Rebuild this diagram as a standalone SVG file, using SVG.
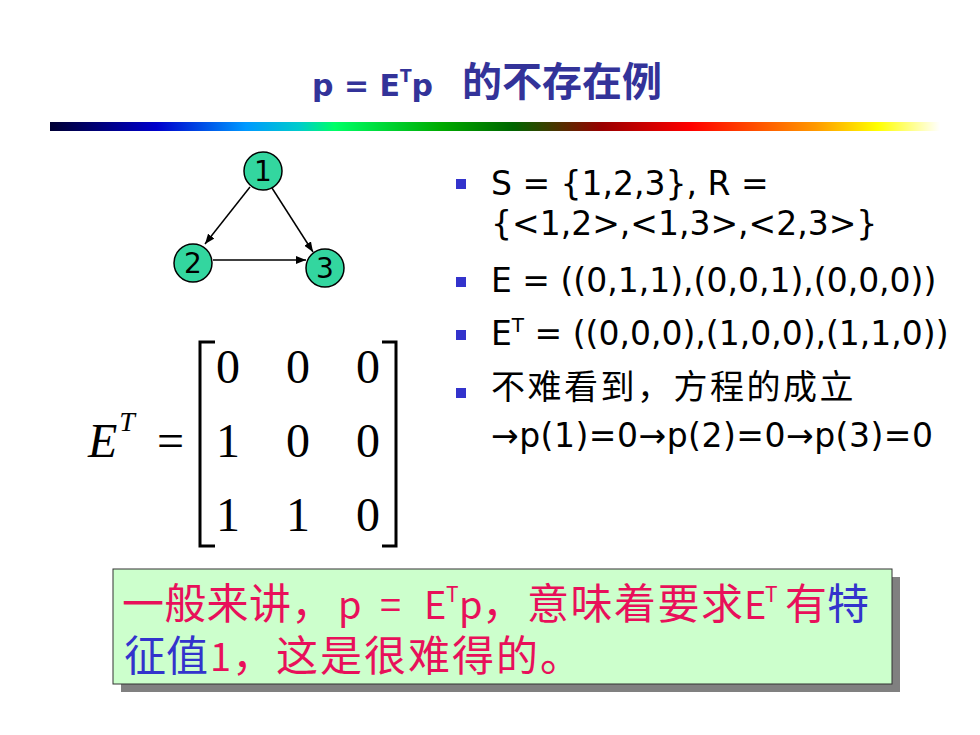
<svg xmlns="http://www.w3.org/2000/svg" width="980" height="735" viewBox="0 0 980 735">
<defs>
<linearGradient id="bar" x1="0" y1="0" x2="1" y2="0">
<stop offset="0" stop-color="#000033"/>
<stop offset="0.12" stop-color="#0000CC"/>
<stop offset="0.22" stop-color="#0099FF"/>
<stop offset="0.28" stop-color="#00CCCC"/>
<stop offset="0.32" stop-color="#00FF66"/>
<stop offset="0.44" stop-color="#00AA00"/>
<stop offset="0.52" stop-color="#006600"/>
<stop offset="0.62" stop-color="#990000"/>
<stop offset="0.72" stop-color="#FF0000"/>
<stop offset="0.86" stop-color="#FF9900"/>
<stop offset="0.93" stop-color="#FFFF00"/>
<stop offset="1" stop-color="#FFFFFF"/>
</linearGradient>
<marker id="arr" viewBox="0 0 10 8" refX="10" refY="4" markerWidth="10" markerHeight="8" markerUnits="userSpaceOnUse" orient="auto">
<path d="M0,0 L10,4 L0,8 z" fill="#000"/>
</marker>
</defs>
<style>
.title{font-family:"DejaVu Sans","Noto Sans CJK SC",sans-serif;font-weight:bold;fill:#333399}
.tcjk{font-family:"Noto Sans CJK SC",sans-serif;font-weight:bold;fill:#333399}
.node circle{fill:#33D69F;stroke:#000;stroke-width:1.5}
.node text{font-family:"DejaVu Sans",sans-serif;font-size:28px;text-anchor:middle;fill:#000}
.edge{stroke:#000;stroke-width:1.5;fill:none;marker-end:url(#arr)}
.bul{fill:#3333CC}
.bt{font-family:"DejaVu Sans","Noto Sans CJK SC",sans-serif;font-size:33px;fill:#000}
.cjk{font-family:"Noto Sans CJK SC",sans-serif;font-size:34px;letter-spacing:2.5px}
.mx{font-family:"Liberation Serif","Times New Roman",serif;font-size:48px;fill:#000}
.br{stroke:#000;stroke-width:3;fill:none}
.bx{font-family:"Noto Sans CJK SC",sans-serif;font-size:42px;fill:#E8105A}
.lat{font-size:38px}
.sup{font-size:21px}
.blue{fill:#3333CC}
</style>

<g id="title">
<text class="title" x="312" y="96" font-size="30">p = E<tspan font-size="17" dy="-14">T</tspan><tspan dy="14">p</tspan></text>
<text class="tcjk" x="462" y="96" font-size="40">的不存在例</text>
</g>
<rect id="bar-line" x="50" y="122" width="890" height="9" fill="url(#bar)"/>

<g id="connectors">
<line class="edge" x1="250" y1="187" x2="205" y2="244"/>
<line class="edge" x1="272" y1="188" x2="313" y2="252"/>
<line class="edge" x1="213" y1="260" x2="306" y2="260"/>
</g>
<g id="node1" class="node"><circle cx="263" cy="171" r="19"/><text x="263" y="181">1</text></g>
<g id="node2" class="node"><circle cx="193" cy="263" r="19"/><text x="193" y="273">2</text></g>
<g id="node3" class="node"><circle cx="325" cy="268" r="19"/><text x="325" y="278">3</text></g>

<g id="bullets">
<rect class="bul" x="456" y="179" width="10" height="10"/>
<rect class="bul" x="456" y="277" width="10" height="10"/>
<rect class="bul" x="456" y="330" width="10" height="10"/>
<rect class="bul" x="456" y="388" width="10" height="10"/>
<text class="bt" x="491" y="195">S = {1,2,3}, R =</text>
<text class="bt" x="491" y="235">{&lt;1,2&gt;,&lt;1,3&gt;,&lt;2,3&gt;}</text>
<text class="bt" x="491" y="292">E = ((0,1,1),(0,0,1),(0,0,0))</text>
<text class="bt" x="491" y="345">E<tspan font-size="20" dy="-13">T</tspan><tspan dy="13"> = ((0,0,0),(1,0,0),(1,1,0))</tspan></text>
<text class="bt cjk" x="491" y="399">不难看到，方程的成立</text>
<text class="bt" x="491" y="447" letter-spacing="0.5">→p(1)=0→p(2)=0→p(3)=0</text>
</g>

<g id="matrix">
<text class="mx" x="88" y="457" font-style="italic">E<tspan font-size="28" dy="-26" dx="2">T</tspan></text>
<text class="mx" x="157" y="457">=</text>
<path class="br" d="M215,342 H200 V546 H215"/>
<path class="br" d="M382,342 H396 V546 H382"/>
<text class="mx" x="228" y="383" text-anchor="middle">0</text>
<text class="mx" x="298" y="383" text-anchor="middle">0</text>
<text class="mx" x="368" y="383" text-anchor="middle">0</text>
<text class="mx" x="228" y="457" text-anchor="middle">1</text>
<text class="mx" x="298" y="457" text-anchor="middle">0</text>
<text class="mx" x="368" y="457" text-anchor="middle">0</text>
<text class="mx" x="228" y="531" text-anchor="middle">1</text>
<text class="mx" x="298" y="531" text-anchor="middle">1</text>
<text class="mx" x="368" y="531" text-anchor="middle">0</text>
</g>

<g id="note">
<rect x="121" y="577" width="779" height="115" fill="#808080"/>
<rect x="113" y="569" width="779" height="115" fill="#CCFFCC" stroke="#333" stroke-width="1"/>
<text class="bx" x="122" y="619" letter-spacing="0.3">一般来讲，</text>
<text class="bx" y="619"><tspan class="lat" x="338">p</tspan><tspan class="lat" x="380">=</tspan><tspan class="lat" x="424">E</tspan><tspan class="sup" x="446" dy="-17">T</tspan><tspan class="lat" x="459" dy="17">p</tspan><tspan x="482">，</tspan></text>
<text class="bx" x="527" y="619" letter-spacing="1.5">意味着要求</text>
<text class="bx" y="619"><tspan class="lat" x="744">E</tspan><tspan class="sup" x="765" dy="-17">T</tspan><tspan x="785" dy="17">有</tspan><tspan class="blue" x="827">特</tspan></text>
<text class="bx" y="671"><tspan class="blue" x="124">征值</tspan><tspan class="lat" x="210">1</tspan><tspan x="232">，</tspan></text>
<text class="bx" x="276" y="671" letter-spacing="2">这是很难得的。</text>
</g>
</svg>
